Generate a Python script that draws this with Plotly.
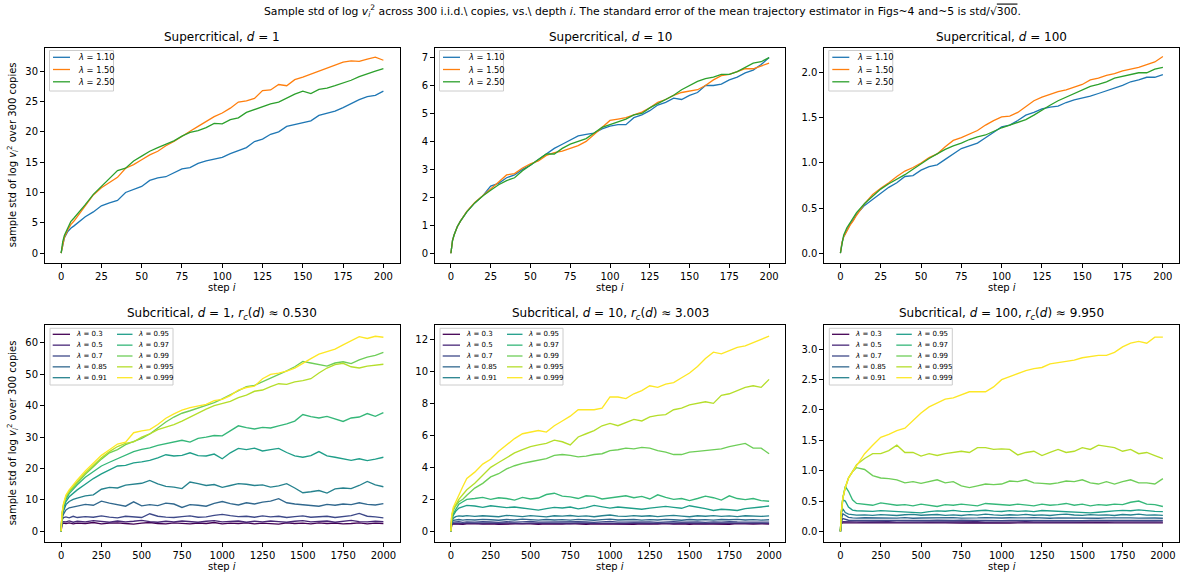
import plotly.graph_objects as go

OFF = 0
W, H = 1180, 578

# ---------------- data ----------------
TOP_STEPS = [0, 1, 2, 4, 6, 8, 10, 15, 20,
             25, 30, 35, 40, 45, 50, 55, 60, 65,
             70, 75, 80, 85, 90, 95, 100, 105, 110,
             115, 120, 125, 130, 135, 140, 145, 150, 155,
             160, 165, 170, 175, 180, 185, 190, 195, 200]

BOT_STEPS = [0, 5, 15, 30, 50, 75, 100, 150, 200,
             250, 300, 350, 400, 450, 500, 550, 600, 650,
             700, 750, 800, 850, 900, 950, 1000, 1050, 1100,
             1150, 1200, 1250, 1300, 1350, 1400, 1450, 1500, 1550,
             1600, 1650, 1700, 1750, 1800, 1850, 1900, 1950, 2000]

SUPER_LAMBDAS = ["1.10", "1.50", "2.50"]
SUPER_COLORS = ["#1f77b4", "#ff7f0e", "#2ca02c"]
SUB_LAMBDAS = ["0.3", "0.5", "0.7", "0.85", "0.91", "0.95", "0.97", "0.99", "0.995", "0.999"]
SUB_COLORS = ["#440154", "#482878", "#3e4989", "#31688e", "#26828e",
              "#1f9e89", "#35b779", "#6ece58", "#b5de2b", "#fde725"]

# Supercritical d = 1
sup_d1_110 = [0, 1.6, 2.5, 3.5, 4.1, 4.5, 4.9, 6.0, 6.8,
              7.8, 8.3, 8.7, 10.0, 10.5, 11.0, 12.0, 12.4, 12.6,
              13.2, 13.9, 14.1, 14.8, 15.2, 15.5, 15.8, 16.4, 16.9,
              17.4, 18.4, 18.8, 19.6, 20.0, 20.9, 21.2, 21.5, 21.8,
              22.7, 23.1, 23.4, 24.0, 24.7, 25.3, 25.8, 26.0, 26.7]
sup_d1_150 = [0, 1.7, 2.6, 3.8, 4.7, 5.3, 6.0, 7.8, 9.6,
              10.8, 11.6, 12.5, 14.0, 14.6, 15.4, 16.2, 16.8, 17.7,
              18.4, 19.3, 20.1, 20.9, 21.7, 22.5, 23.1, 23.9, 24.9,
              25.1, 25.5, 26.8, 26.9, 27.8, 27.6, 28.6, 29.0, 29.5,
              30.1, 30.5, 31.1, 31.5, 31.7, 31.6, 32.0, 32.3, 31.8]
sup_d1_250 = [0, 1.9, 2.9, 4.2, 5.2, 5.8, 6.4, 8.0, 9.7,
              11.0, 12.2, 13.6, 14.0, 15.2, 16.0, 16.8, 17.4, 17.9,
              18.5, 19.3, 19.9, 20.2, 20.7, 21.4, 21.3, 22.0, 22.3,
              23.2, 23.7, 24.1, 24.6, 24.9, 25.6, 26.2, 26.7, 26.3,
              27.0, 27.2, 27.6, 28.0, 28.5, 29.1, 29.6, 30.0, 30.4]

# Supercritical d = 10
sup_d10_110 = [0, 0.45, 0.65, 0.95, 1.15, 1.32, 1.48, 1.8, 2.05,
               2.4, 2.5, 2.7, 2.8, 3.0, 3.15, 3.35, 3.55, 3.75,
               3.9, 4.05, 4.2, 4.25, 4.3, 4.45, 4.55, 4.6, 4.6,
               4.85, 4.95, 5.1, 5.3, 5.4, 5.55, 5.5, 5.65, 5.75,
               6.0, 6.0, 6.05, 6.2, 6.3, 6.45, 6.55, 6.75, 7.0]
sup_d10_150 = [0, 0.45, 0.65, 0.95, 1.15, 1.32, 1.5, 1.82, 2.05,
               2.3, 2.55, 2.8, 2.85, 3.05, 3.2, 3.3, 3.5, 3.6,
               3.65, 3.75, 3.85, 4.0, 4.25, 4.5, 4.75, 4.8, 4.85,
               4.95, 5.05, 5.2, 5.4, 5.5, 5.65, 5.75, 5.8, 5.85,
               6.0, 6.2, 6.35, 6.4, 6.5, 6.6, 6.6, 6.7, 6.8]
sup_d10_250 = [0, 0.45, 0.65, 0.95, 1.15, 1.32, 1.48, 1.8, 2.05,
               2.25, 2.45, 2.6, 2.7, 2.95, 3.15, 3.35, 3.55, 3.55,
               3.75, 3.9, 4.0, 4.1, 4.3, 4.5, 4.6, 4.7, 4.8,
               4.95, 5.0, 5.2, 5.35, 5.5, 5.65, 5.85, 6.0, 6.15,
               6.25, 6.3, 6.4, 6.4, 6.5, 6.65, 6.8, 6.85, 7.0]

# Supercritical d = 100
sup_d100_110 = [0, 0.12, 0.18, 0.26, 0.32, 0.37, 0.43, 0.53, 0.6,
                0.67, 0.73, 0.78, 0.85, 0.86, 0.92, 0.96, 0.98, 1.04,
                1.1, 1.16, 1.19, 1.22, 1.28, 1.34, 1.4, 1.42, 1.47,
                1.53, 1.56, 1.6, 1.62, 1.63, 1.67, 1.7, 1.72, 1.74,
                1.77, 1.8, 1.83, 1.86, 1.9, 1.92, 1.95, 1.95, 1.98]
sup_d100_150 = [0, 0.12, 0.18, 0.25, 0.31, 0.36, 0.42, 0.55, 0.65,
                0.72, 0.78, 0.85, 0.91, 0.95, 1.0, 1.06, 1.1, 1.18,
                1.25, 1.28, 1.32, 1.36, 1.42, 1.47, 1.51, 1.52, 1.56,
                1.63, 1.69, 1.73, 1.76, 1.79, 1.81, 1.84, 1.87, 1.92,
                1.94, 1.97, 1.99, 2.02, 2.04, 2.06, 2.09, 2.12, 2.18]
sup_d100_250 = [0, 0.13, 0.2, 0.28, 0.34, 0.39, 0.45, 0.55, 0.63,
                0.71, 0.77, 0.82, 0.87, 0.93, 0.99, 1.05, 1.1, 1.15,
                1.19, 1.22, 1.26, 1.29, 1.31, 1.35, 1.39, 1.42, 1.45,
                1.48, 1.53, 1.59, 1.64, 1.69, 1.73, 1.77, 1.81, 1.85,
                1.87, 1.9, 1.94, 1.96, 1.98, 2.0, 2.0, 2.04, 2.06]

# Subcritical d = 1
sub_d1_0300 = [0, 2.3, 2.6, 2.5, 2.7, 2.4, 2.6, 2.5, 2.8,
               2.4, 2.6, 2.7, 2.5, 2.3, 2.6, 2.8, 2.5, 2.4,
               2.7, 2.6, 2.4, 2.6, 2.5, 2.8, 2.4, 2.6, 2.5,
               2.7, 2.4, 2.6, 2.5, 2.3, 2.7, 2.5, 2.6, 2.4,
               2.7, 2.5, 2.6, 2.4, 2.5, 2.7, 2.4, 2.6, 2.5]
sub_d1_0500 = [0, 2.8, 3.1, 3.0, 3.3, 2.9, 3.2, 3.0, 3.4,
               3.1, 2.9, 3.3, 3.0, 3.2, 3.5, 3.1, 2.9, 3.2,
               3.0, 3.3, 3.1, 2.9, 3.2, 3.4, 3.0, 3.1, 3.3,
               2.9, 3.2, 3.0, 3.3, 3.1, 2.9, 3.2, 3.4, 3.0,
               3.1, 3.3, 2.9, 3.2, 3.5, 3.1, 3.0, 3.2, 3.1]
sub_d1_0700 = [0, 3.6, 4.4, 4.6, 4.3, 4.8, 4.4, 4.7, 4.5,
               4.9, 4.5, 4.3, 4.8, 4.6, 4.4, 5.6, 4.8, 4.5,
               4.4, 4.7, 4.9, 4.5, 4.6, 5.1, 5.4, 5.0, 4.7,
               4.8, 4.5, 4.9, 4.6, 4.8, 4.4, 4.7, 4.9, 4.5,
               4.6, 4.8, 4.4, 4.7, 5.0, 5.7, 4.8, 4.6, 4.3]
sub_d1_0850 = [0, 4.0, 5.5, 6.8, 7.5, 7.8, 8.0, 8.6, 8.3,
               9.6, 9.0, 8.6, 8.0, 9.4, 8.1, 8.5, 8.2, 9.0,
               8.7, 7.6, 8.5, 8.3, 8.0, 8.9, 9.5, 8.8, 8.4,
               9.1, 8.7, 9.3, 9.6, 10.4, 9.1, 8.7, 8.5, 8.2,
               8.0, 8.6, 8.3, 8.7, 8.5, 9.1, 8.6, 8.4, 8.8]
sub_d1_0910 = [0, 4.5, 6.5, 8.5, 9.5, 10.2, 10.6, 11.3, 11.6,
               13.4, 14.0, 13.8, 14.7, 15.0, 15.3, 16.2, 15.1, 14.3,
               14.1, 13.6, 15.7, 15.2, 14.6, 14.9, 14.0, 14.6, 15.2,
               15.0, 14.6, 14.8, 14.1, 14.5, 15.2, 13.8, 12.3, 12.6,
               13.0, 12.2, 13.5, 13.8, 13.6, 14.6, 15.9, 14.8, 14.2]
sub_d1_0950 = [0, 4.8, 7.5, 9.5, 11.0, 12.2, 13.2, 15.0, 16.8,
               18.3, 19.6, 20.8, 21.0, 21.8, 22.1, 22.6, 23.4, 24.4,
               24.0, 24.2, 25.0, 24.1, 24.0, 24.6, 23.1, 25.0, 26.4,
               26.0, 26.5, 25.6, 26.0, 26.4, 25.1, 24.0, 23.6, 24.1,
               25.4, 24.0, 23.6, 23.0, 22.6, 23.1, 22.5, 23.0, 23.6]
sub_d1_0970 = [0, 5.0, 8.0, 10.2, 12.0, 13.5, 14.8, 17.2, 19.1,
               20.8, 22.0, 23.2, 24.4, 25.4, 26.1, 26.6, 27.4, 28.0,
               28.6, 29.0, 28.4, 29.6, 30.0, 30.5, 30.4, 32.0, 33.6,
               33.0, 32.6, 33.1, 32.9, 33.6, 34.2, 35.1, 37.2, 36.5,
               36.1, 36.6, 35.9, 35.0, 36.1, 36.4, 37.5, 36.6, 37.8]
sub_d1_0990 = [0, 5.2, 8.4, 10.8, 12.5, 14.0, 15.5, 18.2, 20.6,
               23.0, 25.0, 26.0, 27.6, 28.6, 29.6, 31.0, 33.0, 34.8,
               36.4, 37.6, 38.4, 39.2, 40.0, 41.0, 42.2, 43.5, 45.0,
               46.1, 46.5, 47.6, 48.9, 50.0, 51.1, 52.4, 54.1, 53.6,
               53.0, 52.6, 53.6, 54.0, 53.4, 54.6, 55.5, 56.0, 57.0]
sub_d1_0995 = [0, 5.4, 8.6, 11.2, 12.8, 14.4, 15.8, 18.6, 21.0,
               23.4, 25.4, 27.0, 28.0, 28.5, 30.0, 31.0, 32.4, 33.1,
               34.0, 35.1, 36.4, 37.6, 38.9, 40.0, 40.6, 41.4, 42.6,
               43.4, 44.6, 45.0, 46.1, 47.0, 46.8, 47.6, 48.0, 48.6,
               50.4, 52.0, 53.1, 53.5, 52.4, 52.0, 52.6, 53.0, 53.2]
sub_d1_0999 = [0, 5.6, 8.8, 11.6, 13.2, 15.0, 16.4, 19.2, 21.8,
               24.2, 26.0, 27.8, 28.4, 31.4, 32.0, 32.4, 34.0, 36.0,
               37.4, 38.6, 39.4, 40.0, 40.4, 41.6, 42.0, 43.2, 45.0,
               45.8, 46.2, 48.6, 50.0, 50.4, 51.0, 52.0, 53.6, 55.0,
               56.4, 57.2, 58.0, 59.4, 60.6, 62.0, 61.4, 62.1, 61.8]

# Subcritical d = 10
sub_d10_0300 = [0, 0.42, 0.46, 0.45, 0.47, 0.44, 0.46, 0.48, 0.45,
                0.47, 0.44, 0.46, 0.45, 0.48, 0.46, 0.44, 0.47, 0.45,
                0.46, 0.48, 0.45, 0.44, 0.47, 0.46, 0.45, 0.48, 0.46,
                0.44, 0.47, 0.45, 0.46, 0.48, 0.45, 0.47, 0.44, 0.46,
                0.45, 0.47, 0.46, 0.44, 0.48, 0.45, 0.46, 0.47, 0.45]
sub_d10_0500 = [0, 0.45, 0.5, 0.49, 0.51, 0.48, 0.52, 0.5, 0.49,
                0.51, 0.49, 0.52, 0.5, 0.48, 0.51, 0.5, 0.52, 0.49,
                0.5, 0.48, 0.51, 0.5, 0.52, 0.49, 0.51, 0.5, 0.48,
                0.52, 0.5, 0.49, 0.51, 0.5, 0.48, 0.52, 0.5, 0.51,
                0.49, 0.51, 0.5, 0.52, 0.48, 0.5, 0.51, 0.49, 0.5]
sub_d10_0700 = [0, 0.5, 0.57, 0.58, 0.6, 0.56, 0.59, 0.57, 0.6,
                0.58, 0.56, 0.6, 0.57, 0.59, 0.61, 0.57, 0.58, 0.56,
                0.59, 0.57, 0.6, 0.58, 0.56, 0.59, 0.61, 0.57, 0.58,
                0.6, 0.57, 0.59, 0.56, 0.58, 0.6, 0.57, 0.59, 0.58,
                0.56, 0.59, 0.57, 0.6, 0.58, 0.57, 0.59, 0.58, 0.57]
sub_d10_0850 = [0, 0.55, 0.68, 0.72, 0.74, 0.7, 0.73, 0.71, 0.75,
                0.72, 0.69, 0.74, 0.71, 0.76, 0.72, 0.7, 0.74, 0.71,
                0.73, 0.7, 0.75, 0.72, 0.69, 0.73, 0.76, 0.71, 0.72,
                0.74, 0.7, 0.73, 0.71, 0.75, 0.72, 0.69, 0.74, 0.71,
                0.73, 0.7, 0.74, 0.72, 0.75, 0.71, 0.73, 0.7, 0.72]
sub_d10_0910 = [0, 0.6, 0.82, 0.92, 0.96, 0.94, 0.98, 0.93, 0.97,
                0.95, 0.91, 1.0, 0.96, 0.92, 0.98, 0.94, 0.9, 0.97,
                0.95, 0.99, 0.93, 0.96, 0.91, 0.97, 1.02, 0.95, 0.93,
                0.98, 0.94, 0.97, 0.92, 0.96, 1.0, 0.95, 0.91, 0.97,
                0.94, 0.98, 0.93, 0.96, 0.92, 0.97, 0.95, 0.93, 0.96]
sub_d10_0950 = [0, 0.7, 1.0, 1.25, 1.45, 1.55, 1.62, 1.58, 1.5,
                1.6, 1.55, 1.48, 1.52, 1.45, 1.38, 1.32, 1.42, 1.5,
                1.46, 1.52, 1.4, 1.48, 1.62, 1.55, 1.45, 1.52, 1.48,
                1.42, 1.38, 1.45, 1.52, 1.56, 1.5, 1.44, 1.6, 1.52,
                1.42, 1.3, 1.38, 1.35, 1.3, 1.42, 1.45, 1.52, 1.58]
sub_d10_0970 = [0, 0.8, 1.1, 1.4, 1.7, 1.85, 2.0, 2.05, 2.12,
                2.0, 2.1, 2.05, 1.95, 2.12, 2.02, 2.08, 2.3, 2.38,
                2.2, 2.15, 2.05, 2.22, 2.18, 2.02, 2.08, 2.15, 2.22,
                2.1, 2.18, 2.02, 2.28, 2.12, 2.0, 2.05, 1.92, 2.05,
                2.2, 2.1, 1.95, 2.22, 2.05, 1.98, 2.05, 1.92, 1.88]
sub_d10_0990 = [0, 0.9, 1.3, 1.6, 1.85, 2.0, 2.25, 2.7, 3.0,
                3.4, 3.6, 3.9, 4.1, 4.25, 4.35, 4.45, 4.55, 4.75,
                4.8, 4.75, 4.65, 4.7, 4.8, 4.85, 5.05, 5.1, 5.2,
                5.15, 5.25, 5.2, 5.05, 4.95, 4.8, 4.8, 4.95, 5.0,
                5.05, 5.1, 5.15, 5.3, 5.4, 5.5, 5.2, 5.2, 4.85]
sub_d10_0995 = [0, 0.95, 1.4, 1.7, 2.0, 2.3, 2.6, 3.0, 3.5,
                4.0, 4.3, 4.6, 4.9, 5.1, 5.3, 5.4, 5.5, 5.7,
                5.6, 5.4, 5.9, 6.1, 6.3, 6.6, 6.75, 6.6, 6.8,
                7.0, 6.9, 7.15, 7.25, 7.3, 7.6, 7.7, 7.9, 8.0,
                8.1, 8.0, 8.5, 8.6, 8.8, 9.0, 9.1, 9.0, 9.5]
sub_d10_0999 = [0, 1.0, 1.5, 1.85, 2.3, 2.8, 3.3, 3.7, 4.2,
                4.5, 5.0, 5.4, 5.8, 6.1, 6.2, 6.3, 6.2, 6.6,
                6.9, 7.2, 7.6, 7.6, 7.6, 7.7, 8.4, 8.4, 8.3,
                8.6, 8.8, 9.1, 9.0, 9.2, 9.3, 9.6, 9.9, 10.3,
                10.8, 11.2, 11.1, 11.3, 11.5, 11.6, 11.8, 12.0, 12.2]

# Subcritical d = 100
sub_d100_0300 = [0, 0.13, 0.14, 0.142, 0.138, 0.141, 0.139, 0.142, 0.14,
                 0.139, 0.142, 0.14, 0.138, 0.141, 0.14, 0.143, 0.139, 0.141,
                 0.14, 0.138, 0.142, 0.139, 0.141, 0.143, 0.14, 0.138, 0.141,
                 0.142, 0.139, 0.14, 0.141, 0.138, 0.142, 0.14, 0.139, 0.141,
                 0.14, 0.142, 0.139, 0.141, 0.138, 0.14, 0.142, 0.139, 0.14]
sub_d100_0500 = [0, 0.14, 0.16, 0.158, 0.155, 0.153, 0.157, 0.155, 0.158,
                 0.155, 0.158, 0.153, 0.156, 0.159, 0.154, 0.157, 0.155, 0.158,
                 0.154, 0.157, 0.155, 0.159, 0.153, 0.156, 0.158, 0.154, 0.156,
                 0.158, 0.155, 0.153, 0.157, 0.156, 0.159, 0.154, 0.156, 0.155,
                 0.157, 0.154, 0.158, 0.155, 0.156, 0.153, 0.157, 0.155, 0.156]
sub_d100_0700 = [0, 0.16, 0.21, 0.195, 0.184, 0.18, 0.178, 0.182, 0.179,
                 0.181, 0.177, 0.183, 0.179, 0.182, 0.176, 0.18, 0.184, 0.178,
                 0.18, 0.183, 0.177, 0.181, 0.179, 0.184, 0.178, 0.181, 0.18,
                 0.177, 0.182, 0.18, 0.178, 0.183, 0.179, 0.181, 0.177, 0.182,
                 0.179, 0.183, 0.178, 0.181, 0.18, 0.184, 0.178, 0.18, 0.181]
sub_d100_0850 = [0, 0.19, 0.29, 0.26, 0.23, 0.222, 0.218, 0.224, 0.22,
                 0.217, 0.223, 0.219, 0.226, 0.216, 0.221, 0.225, 0.218, 0.222,
                 0.226, 0.219, 0.215, 0.222, 0.227, 0.218, 0.221, 0.224, 0.217,
                 0.222, 0.226, 0.219, 0.216, 0.223, 0.22, 0.225, 0.218, 0.221,
                 0.217, 0.223, 0.226, 0.219, 0.222, 0.218, 0.224, 0.22, 0.216]
sub_d100_0910 = [0, 0.3, 0.37, 0.31, 0.285, 0.275, 0.268, 0.272, 0.265,
                 0.276, 0.268, 0.262, 0.274, 0.281, 0.266, 0.27, 0.278, 0.264,
                 0.271, 0.262, 0.277, 0.269, 0.283, 0.272, 0.265, 0.274, 0.268,
                 0.279, 0.266, 0.271, 0.262, 0.275, 0.283, 0.27, 0.264, 0.276,
                 0.268, 0.273, 0.261, 0.278, 0.27, 0.284, 0.267, 0.272, 0.265]
sub_d100_0950 = [0, 0.28, 0.52, 0.5, 0.4, 0.35, 0.34, 0.335, 0.33,
                 0.342, 0.335, 0.328, 0.322, 0.318, 0.305, 0.325, 0.338, 0.332,
                 0.345, 0.33, 0.326, 0.34, 0.348, 0.335, 0.328, 0.342, 0.33,
                 0.338, 0.325, 0.344, 0.336, 0.33, 0.322, 0.318, 0.31, 0.306,
                 0.315, 0.33, 0.338, 0.345, 0.34, 0.355, 0.338, 0.33, 0.325]
sub_d100_0970 = [0, 0.3, 0.55, 0.74, 0.66, 0.52, 0.46, 0.44, 0.43,
                 0.47, 0.45, 0.43, 0.44, 0.42, 0.45, 0.43, 0.41, 0.44,
                 0.43, 0.45, 0.44, 0.42, 0.46, 0.45, 0.44, 0.43, 0.45,
                 0.44, 0.42, 0.45, 0.43, 0.44, 0.46, 0.43, 0.45, 0.42,
                 0.44, 0.43, 0.45, 0.44, 0.48, 0.5, 0.45, 0.44, 0.41]
sub_d100_0990 = [0, 0.3, 0.55, 0.72, 0.88, 0.98, 1.05, 1.02, 0.92,
                 0.88, 0.87, 0.85, 0.8, 0.82, 0.79, 0.82, 0.85, 0.8,
                 0.82, 0.75, 0.72, 0.75, 0.78, 0.77, 0.78, 0.83, 0.82,
                 0.85, 0.8, 0.79, 0.78, 0.8, 0.83, 0.82, 0.85, 0.8,
                 0.78, 0.82, 0.78, 0.82, 0.85, 0.8, 0.8, 0.78, 0.87]
sub_d100_0995 = [0, 0.3, 0.55, 0.72, 0.88, 0.98, 1.1, 1.2, 1.28,
                 1.28, 1.33, 1.42, 1.3, 1.3, 1.24, 1.28, 1.25, 1.28,
                 1.3, 1.32, 1.3, 1.38, 1.38, 1.35, 1.36, 1.35, 1.26,
                 1.3, 1.32, 1.25, 1.3, 1.35, 1.3, 1.32, 1.38, 1.35,
                 1.42, 1.4, 1.38, 1.32, 1.35, 1.28, 1.3, 1.25, 1.2]
sub_d100_0999 = [0, 0.3, 0.55, 0.72, 0.88, 0.98, 1.1, 1.28, 1.42,
                 1.55, 1.6, 1.66, 1.7, 1.82, 1.95, 2.05, 2.12, 2.18,
                 2.2, 2.25, 2.3, 2.3, 2.3, 2.38, 2.5, 2.55, 2.6,
                 2.65, 2.68, 2.7, 2.76, 2.78, 2.8, 2.82, 2.86, 2.88,
                 2.9, 2.9, 2.95, 3.04, 3.1, 3.13, 3.1, 3.2, 3.2]

# ---------------- layout helpers ----------------
FONT = "DejaVu Sans"
COLS_PX = [(45.0, 399.5), (435.0, 785.0), (824.3, 1179.0)]
ROWS_PX = [(47.5, 263.0), (325.0, 541.7)]


def px_x(p):
    return (p - OFF) / W


def px_y(p):
    return 1 - (p - OFF) / H


panels = [
    dict(r=0, c=0, steps=TOP_STEPS, series=[sup_d1_110, sup_d1_150, sup_d1_250],
         labels=SUPER_LAMBDAS, colors=SUPER_COLORS, title="Supercritical, <i>d</i> = 1",
         xr=[-10, 210], xd=25, yr=[-1.62, 33.9], yd=5, yf=""),
    dict(r=0, c=1, steps=TOP_STEPS, series=[sup_d10_110, sup_d10_150, sup_d10_250],
         labels=SUPER_LAMBDAS, colors=SUPER_COLORS, title="Supercritical, <i>d</i> = 10",
         xr=[-10, 210], xd=25, yr=[-0.35, 7.36], yd=1, yf=""),
    dict(r=0, c=2, steps=TOP_STEPS, series=[sup_d100_110, sup_d100_150, sup_d100_250],
         labels=SUPER_LAMBDAS, colors=SUPER_COLORS, title="Supercritical, <i>d</i> = 100",
         xr=[-10, 210], xd=25, yr=[-0.109, 2.28], yd=0.5, yf=".1f"),
    dict(r=1, c=0, steps=BOT_STEPS,
         series=[sub_d1_0300, sub_d1_0500, sub_d1_0700, sub_d1_0850, sub_d1_0910,
                 sub_d1_0950, sub_d1_0970, sub_d1_0990, sub_d1_0995, sub_d1_0999],
         labels=SUB_LAMBDAS, colors=SUB_COLORS,
         title="Subcritical, <i>d</i> = 1, <i>r</i><sub><i>c</i></sub>(<i>d</i>) ≈ 0.530",
         xr=[-100, 2100], xd=250, yr=[-3.3, 65.7], yd=10, yf=""),
    dict(r=1, c=1, steps=BOT_STEPS,
         series=[sub_d10_0300, sub_d10_0500, sub_d10_0700, sub_d10_0850, sub_d10_0910,
                 sub_d10_0950, sub_d10_0970, sub_d10_0990, sub_d10_0995, sub_d10_0999],
         labels=SUB_LAMBDAS, colors=SUB_COLORS,
         title="Subcritical, <i>d</i> = 10, <i>r</i><sub><i>c</i></sub>(<i>d</i>) ≈ 3.003",
         xr=[-100, 2100], xd=250, yr=[-0.65, 12.9], yd=2, yf=""),
    dict(r=1, c=2, steps=BOT_STEPS,
         series=[sub_d100_0300, sub_d100_0500, sub_d100_0700, sub_d100_0850, sub_d100_0910,
                 sub_d100_0950, sub_d100_0970, sub_d100_0990, sub_d100_0995, sub_d100_0999],
         labels=SUB_LAMBDAS, colors=SUB_COLORS,
         title="Subcritical, <i>d</i> = 100, <i>r</i><sub><i>c</i></sub>(<i>d</i>) ≈ 9.950",
         xr=[-100, 2100], xd=250, yr=[-0.17, 3.40], yd=0.5, yf=".1f"),
]

fig = go.Figure()
annotations = []
shapes = []
layout_axes = {}

for k, p in enumerate(panels):
    n = k + 1
    xname = "x" if n == 1 else f"x{n}"
    yname = "y" if n == 1 else f"y{n}"
    L, R = COLS_PX[p["c"]]
    T, B = ROWS_PX[p["r"]]
    top_row = p["r"] == 0
    lw = 1.3 if top_row else 1.35
    for vals, lab, col in zip(p["series"], p["labels"], p["colors"]):
        fig.add_trace(go.Scatter(
            x=p["steps"][:len(vals)], y=vals, mode="lines",
            line=dict(color=col, width=lw), name=f"λ = {lab}",
            showlegend=False, xaxis=xname, yaxis=yname, hoverinfo="skip"))

    common = dict(showline=True, mirror=True, linecolor="black", linewidth=1,
                  ticks="outside", ticklen=4, tickwidth=1, tickcolor="black",
                  showgrid=False, zeroline=False,
                  tickfont=dict(family=FONT, size=10, color="black"))
    layout_axes["xaxis" if n == 1 else f"xaxis{n}"] = dict(
        domain=[px_x(L), px_x(R)], anchor=yname, range=p["xr"],
        tick0=0, dtick=p["xd"], **common)
    layout_axes["yaxis" if n == 1 else f"yaxis{n}"] = dict(
        domain=[px_y(B), px_y(T)], anchor=xname, range=p["yr"],
        tick0=0, dtick=p["yd"], tickformat=p["yf"], **common)

    # subplot title
    annotations.append(dict(
        text=p["title"], xref="paper", yref="paper",
        x=px_x((L + R) / 2), y=px_y(T - 11), xanchor="center", yanchor="middle",
        showarrow=False, font=dict(family=FONT, size=12, color="black")))
    # x label
    annotations.append(dict(
        text="step <i>i</i>", xref="paper", yref="paper",
        x=px_x((L + R) / 2), y=px_y(B + 24.5), xanchor="center", yanchor="middle",
        showarrow=False, font=dict(family=FONT, size=10, color="black")))

    # legend key in the upper-left corner
    if top_row:
        box = (L + 4.5, T + 3.0, L + 68.5, T + 43.5)
        rows_y = [T + 9.8, T + 22.0, T + 34.3]
        positions = [(L + 8.0, L + 25.0, L + 30.5, y) for y in rows_y]
        fsize = 8.3
    else:
        box = (L + 5.0, T + 3.3, L + 128.0, T + 60.0)
        rows_y = [T + 9.3 + 10.85 * i for i in range(5)]
        positions = ([(L + 7.7, L + 25.0, L + 28.5, y) for y in rows_y] +
                     [(L + 72.0, L + 87.5, L + 91.0, y) for y in rows_y])
        fsize = 7
    shapes.append(dict(type="rect", xref="paper", yref="paper",
                       x0=px_x(box[0]), x1=px_x(box[2]), y0=px_y(box[3]), y1=px_y(box[1]),
                       line=dict(color="#cccccc", width=1),
                       fillcolor="rgba(255,255,255,0.8)", layer="above"))
    for (x0, x1, xt, yy), lab, col in zip(positions, p["labels"], p["colors"]):
        shapes.append(dict(type="line", xref="paper", yref="paper",
                           x0=px_x(x0), x1=px_x(x1), y0=px_y(yy), y1=px_y(yy),
                           line=dict(color=col, width=1.3), layer="above"))
        annotations.append(dict(
            text=f"<i>λ</i> = {lab}", xref="paper", yref="paper",
            x=px_x(xt), y=px_y(yy), xanchor="left", yanchor="middle",
            showarrow=False, font=dict(family=FONT, size=fsize, color="black")))

# y labels (left column)
for (T, B) in ROWS_PX:
    annotations.append(dict(
        text="sample std of log <i>v</i><sub><i>i</i></sub><sup>2</sup> over 300 copies",
        xref="paper", yref="paper", x=px_x(13), y=px_y((T + B) / 2),
        xanchor="center", yanchor="middle", textangle=-90, showarrow=False,
        font=dict(family=FONT, size=10, color="black")))

# suptitle
annotations.append(dict(
    text=("Sample std of log <i>v</i><sub><i>i</i></sub><sup>2</sup> across 300 i.i.d.\\ copies, "
          "vs.\\ depth <i>i</i>. The standard error of the mean trajectory estimator in "
          "Figs~4 and~5 is std/√<span style=\"text-decoration:overline\">300</span>."),
    xref="paper", yref="paper", x=px_x(642), y=px_y(11),
    xanchor="center", yanchor="middle", showarrow=False,
    font=dict(family=FONT, size=10.8, color="black")))

fig.update_layout(
    width=W, height=H, autosize=False,
    margin=dict(l=0, r=0, t=0, b=0),
    paper_bgcolor="white", plot_bgcolor="white",
    showlegend=False,
    font=dict(family=FONT, size=10, color="black"),
    annotations=annotations, shapes=shapes,
    **layout_axes)

# remove the browser's default page margin so the figure starts at the window corner
fig.write_html("out.html",
               config={"displayModeBar": False},
               post_script="document.body.style.margin='0';document.body.style.overflow='hidden';")
